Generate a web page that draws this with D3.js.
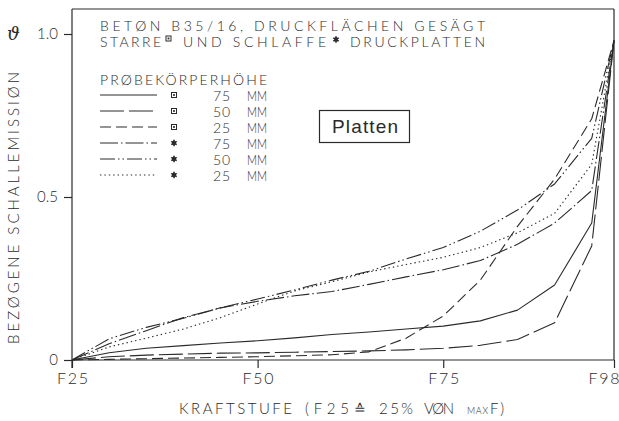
<!DOCTYPE html>
<html><head><meta charset="utf-8">
<script src="https://cdn.jsdelivr.net/npm/d3@7"></script>
<style>html,body{margin:0;padding:0;background:#fff;} svg{display:block;}</style>
</head><body><svg id="c" width="619" height="421"></svg>
<script>
// ---- data ----
const steps = [25,30,35,40,45,50,55,60,65,70,75,80,85,90,95,98];
const starr75   = [0,0.022,0.036,0.044,0.052,0.059,0.068,0.078,0.086,0.095,0.104,0.12,0.153,0.23,0.42,0.98];
const starr50   = [0,0.01,0.015,0.018,0.021,0.022,0.024,0.026,0.028,0.031,0.036,0.045,0.063,0.114,0.35,0.98];
const starr25   = [0,0.002,0.004,0.006,0.008,0.01,0.013,0.016,0.025,0.067,0.135,0.245,0.41,0.555,0.74,0.98];
const schlaff75 = [0,0.05,0.09,0.13,0.16,0.18,0.197,0.21,0.232,0.255,0.277,0.305,0.355,0.42,0.52,0.98];
const schlaff50 = [0,0.065,0.1,0.128,0.16,0.187,0.215,0.245,0.272,0.31,0.345,0.395,0.46,0.54,0.68,0.98];
const schlaff25 = [0,0.04,0.067,0.095,0.13,0.172,0.212,0.24,0.27,0.293,0.315,0.345,0.39,0.45,0.6,0.98];
const legendHeights = ["75","50","25","75","50","25"];
const legendPlate = ["starr","starr","starr","schlaff","schlaff","schlaff"];
const xTicks = [25,50,75,98];
const xTickLabels = ["F25","F50","F75","F98"];
const yTicks = [0,0.5,1.0];
const yTickLabels = ["0","0.5","1.0"];

// ---- styles ----
const ink = "#2a2a2a";
const font = "Lato, 'DejaVu Sans', sans-serif";
const fw = 300;
const dashes = ["none","24,5","11,5","18,3,1.5,3","15,3,1.5,3,1.5,3","1.4,3"];
const allSeries = [starr75,starr50,starr25,schlaff75,schlaff50,schlaff25];

const svg = d3.select("#c");
svg.append("rect").attr("width",619).attr("height",421).attr("fill","#fff");

const x = d3.scaleLinear().domain([25,98]).range([72,614]);
const y = d3.scaleLinear().domain([0,1]).range([360,34]);

function txt(px, py, s, len, size, adj) {
  const t = svg.append("text").attr("x",px).attr("y",py).text(s)
    .attr("font-family", font).attr("font-weight", fw)
    .attr("font-size", size || 14).attr("fill", ink);
  if (len) t.attr("textLength", len).attr("lengthAdjust", adj || "spacing");
  return t;
}

// frame
svg.append("line").attr("x1",72).attr("x2",614).attr("y1",9).attr("y2",9).attr("stroke",ink).attr("stroke-width",1.2);
svg.append("line").attr("x1",614).attr("x2",614).attr("y1",9).attr("y2",360).attr("stroke",ink).attr("stroke-width",1.2);

// axes
const yAxis = d3.axisLeft(y).tickValues(yTicks).tickSize(8).tickPadding(6)
  .tickFormat((d,i)=>yTickLabels[i]);
const gy = svg.append("g").attr("transform","translate(72,0)").call(yAxis);
gy.select(".domain").attr("d","M0,9V368").attr("stroke",ink).attr("stroke-width",1.2);
gy.selectAll(".tick line").attr("stroke",ink).attr("stroke-width",1.2);
gy.selectAll(".tick text").attr("font-family",font).attr("font-weight",fw).attr("font-size",15).attr("fill",ink);

const xAxis = d3.axisBottom(x).tickValues(xTicks).tickSize(8).tickPadding(5)
  .tickFormat((d,i)=>xTickLabels[i]);
const gx = svg.append("g").attr("transform","translate(0,360)").call(xAxis);
gx.select(".domain").attr("d","M72,0H614").attr("stroke",ink).attr("stroke-width",1.2);
gx.selectAll(".tick line").attr("stroke",ink).attr("stroke-width",1.2);
gx.selectAll(".tick text").attr("font-family",font).attr("font-weight",fw).attr("font-size",16).attr("fill",ink)
  .attr("textLength",31).attr("lengthAdjust","spacing");
gx.selectAll(".tick text").filter((d,i)=>i===xTicks.length-1)
  .attr("text-anchor","end").attr("x",5);

// series lines
const line = d3.line().x(d=>x(d[0])).y(d=>y(d[1]));
allSeries.forEach((vals,i)=>{
  svg.append("path").datum(steps.map((s,j)=>[s,vals[j]]))
    .attr("d",line).attr("fill","none").attr("stroke",ink)
    .attr("stroke-width",1.1).attr("stroke-dasharray",dashes[i])
    .attr("stroke-linejoin","round");
});

// symbols
function plateSymbol(cx, cy, kind, sz) {
  sz = sz || 5.5;
  if (kind === "starr") {
    svg.append("rect").attr("x",cx-sz/2).attr("y",cy-sz/2).attr("width",sz).attr("height",sz)
      .attr("fill","none").attr("stroke",ink).attr("stroke-width",1);
    svg.append("rect").attr("x",cx-0.9).attr("y",cy-0.9).attr("width",1.8).attr("height",1.8).attr("fill",ink);
  } else {
    svg.append("path").attr("transform",`translate(${cx},${cy})`)
      .attr("d", d3.symbol(d3.symbolAsterisk, sz*sz*1.1)())
      .attr("fill","none").attr("stroke",ink).attr("stroke-width",1.6);
    svg.append("rect").attr("x",cx-1.8).attr("y",cy-1.8).attr("width",3.6).attr("height",3.6).attr("fill",ink);
  }
}

// title
txt(100, 30.5, "BETØN   B35/16, DRUCKFLÄCHEN GESÄGT", 385, 14);
txt(100, 46.5, "STARRE", 61, 14);
plateSymbol(168.5, 38.5, "starr", 5);
txt(183, 46.5, "UND SCHLAFFE", 143, 14);
plateSymbol(336, 39.5, "schlaff", 5);
txt(350, 46.5, "DRUCKPLATTEN", 135, 14);

// legend
txt(100, 85, "PRØBEKÖRPERHÖHE", 167);
const rowY = [95,111,127,143,159,175];
legendHeights.forEach((h,i)=>{
  svg.append("line").attr("x1",100).attr("x2",157).attr("y1",rowY[i]).attr("y2",rowY[i])
    .attr("stroke",ink).attr("stroke-width",1.1).attr("stroke-dasharray",dashes[i]);
  plateSymbol(174, rowY[i], legendPlate[i], 5);
  txt(213, rowY[i]+5.5, h, 17);
  txt(247, rowY[i]+5.5, "MM", 20, 14, "spacingAndGlyphs");
});

// Platten box
svg.append("rect").attr("x",319.5).attr("y",110.5).attr("width",90).attr("height",32)
  .attr("fill","#fff").attr("stroke",ink).attr("stroke-width",1.2);
svg.append("text").attr("x",332).attr("y",133).text("Platten")
  .attr("font-family","'Liberation Sans', Arial, sans-serif").attr("font-size",19).attr("fill",ink)
  .attr("textLength",66).attr("lengthAdjust","spacing");

// y label
svg.append("text").attr("transform","translate(19,208) rotate(-90)").attr("text-anchor","middle")
  .text("BEZØGENE SCHALLEMISSIØN").attr("font-family",font).attr("font-weight",fw)
  .attr("font-size",15).attr("fill",ink)
  .attr("textLength",272).attr("lengthAdjust","spacing");
// theta
svg.append("text").attr("x",7).attr("y",40).text("ϑ")
  .attr("font-family","'DejaVu Serif', serif").attr("font-style","italic").attr("font-size",18).attr("fill",ink);

// x label
txt(179, 414, "KRAFTSTUFE", 113, 15);
txt(305, 414, "(F25", 44, 15);
txt(354, 414, "≙", 18, 14);
txt(379, 414, "25%", 34, 15);
txt(424, 414, "VØN", 30, 15);
txt(467, 414, "MAX", 21, 9);
txt(490, 414, "F)", 14, 15);
</script></body></html>
